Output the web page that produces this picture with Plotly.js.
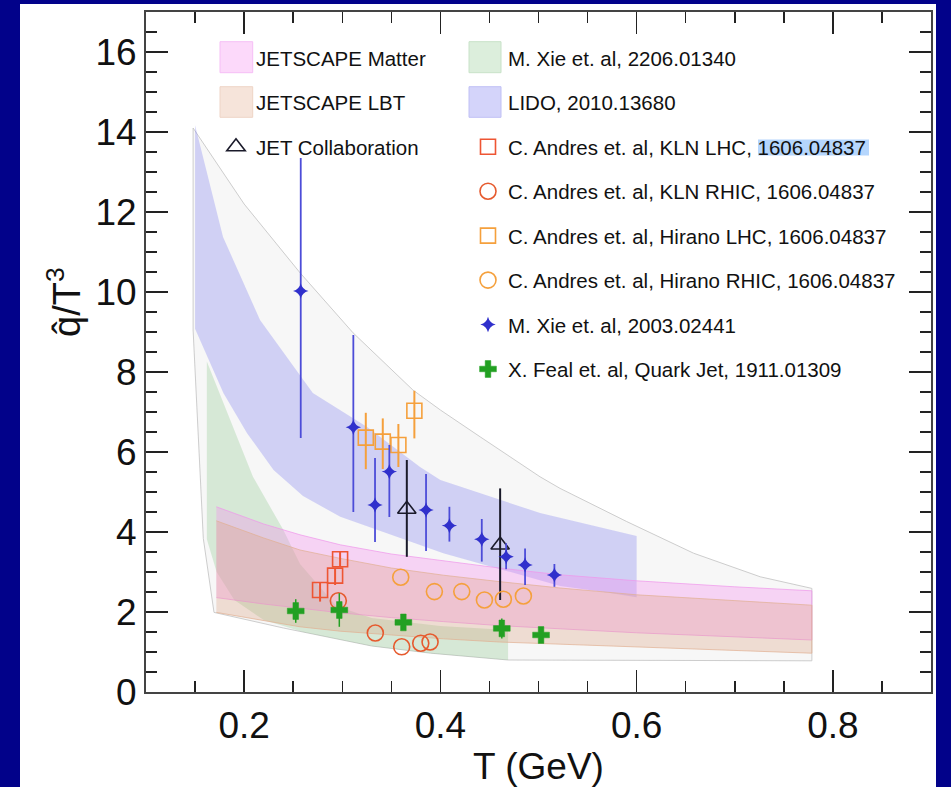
<!DOCTYPE html>
<html><head><meta charset="utf-8">
<script src="https://cdn.plot.ly/plotly-3.0.1.min.js"></script>
<style>html,body{margin:0;padding:0;background:#02028a;} #chart{width:951px;height:787px;}</style>
</head><body><div id="chart"></div>
<script>
// ---------- bands ----------
const envT = [0.148, 0.2, 0.257, 0.311, 0.372, 0.4, 0.4405, 0.5016, 0.522, 0.59, 0.658, 0.726, 0.7786, 0.7786, 0.469, 0.39, 0.33, 0.30, 0.24, 0.1693, 0.1584, 0.148, 0.148];
const envQ = [14.1, 12.2, 10.48, 8.98, 7.55, 7.05, 6.38, 5.38, 5.09, 4.26, 3.47, 2.88, 2.59, 0.78, 0.8, 0.97, 1.15, 1.3, 1.6, 1.99, 3.84, 9.05, 14.1];

const lidoUpT = [0.15, 0.1785, 0.2162, 0.27, 0.3253, 0.3793, 0.4, 0.5016, 0.6];
const lidoUpQ = [14.17, 11.375, 9.3, 7.475, 6.625, 5.625, 5.3, 4.475, 3.9];
const lidoLoT = [0.15, 0.179, 0.203, 0.23, 0.26, 0.298, 0.403, 0.522, 0.563, 0.6];
const lidoLoQ = [9.08, 7.47, 6.47, 5.55, 4.9, 4.38, 3.47, 2.65, 2.51, 2.37];

const xie22UpT = [0.162, 0.182, 0.209, 0.24, 0.257, 0.294, 0.33, 0.4, 0.469];
const xie22UpQ = [8.26, 7.05, 5.38, 4.05, 3.2, 2.15, 1.85, 1.65, 1.55];
const xie22LoT = [0.162, 0.172, 0.19, 0.22, 0.26, 0.3, 0.33, 0.39, 0.469];
const xie22LoQ = [3.82, 3.0, 2.3, 1.8, 1.5, 1.3, 1.15, 0.97, 0.8];

const bandT = [0.1717, 0.22, 0.257, 0.298, 0.35, 0.403, 0.46, 0.522, 0.6, 0.7, 0.7786];
const matterUp = [4.63, 4.2, 3.93, 3.68, 3.45, 3.28, 3.1, 2.93, 2.78, 2.63, 2.53];
const matterLo = [2.36, 2.2, 2.09, 1.98, 1.86, 1.76, 1.66, 1.58, 1.48, 1.38, 1.3];
const lbtUp = [4.28, 3.85, 3.55, 3.34, 3.1, 2.92, 2.76, 2.6, 2.43, 2.28, 2.17];
const lbtLo = [1.99, 1.78, 1.63, 1.52, 1.42, 1.33, 1.25, 1.19, 1.12, 1.04, 0.97];

// ---------- points ----------
const jetT = [0.3658, 0.4609];
const jetQ = [4.57, 3.675];
const jetHi = [5.8, 5.09];
const jetLo = [3.38, 2.3];

const klnLhcT = [0.2774, 0.2927, 0.2978];
const klnLhcQ = [2.55, 2.91, 3.32];
const klnLhcHi = [2.73, 3.09, 3.51];
const klnLhcLo = [2.26, 2.675, 3.13];

const klnRhicT = [0.296, 0.3337, 0.3606, 0.38, 0.3895];
const klnRhicQ = [2.28, 1.475, 1.13, 1.22, 1.25];

const hirLhcT = [0.324, 0.3413, 0.3572, 0.3735];
const hirLhcQ = [6.36, 6.26, 6.175, 7.03];
const hirLhcHi = [6.98, 6.84, 6.7, 7.53];
const hirLhcLo = [5.57, 5.575, 5.625, 6.34];

const hirRhicT = [0.3596, 0.3939, 0.4218, 0.4449, 0.4642, 0.4846];
const hirRhicQ = [2.87, 2.51, 2.51, 2.3, 2.32, 2.4];

const xie20T = [0.2577, 0.3113, 0.3334, 0.348, 0.3854, 0.4092, 0.4422, 0.467, 0.4863, 0.5162];
const xie20Q = [10.025, 6.62, 4.675, 5.51, 4.55, 4.16, 3.82, 3.38, 3.175, 2.925];
const xie20Hi = [13.35, 8.925, 5.85, 6.175, 5.45, 4.63, 4.325, 3.72, 3.59, 3.2];
const xie20Lo = [6.35, 4.5, 3.75, 4.375, 3.525, 3.76, 3.26, 3.07, 2.675, 2.63];

const fealT = [0.2526, 0.297, 0.3623, 0.4626, 0.5026];
const fealQ = [2.025, 2.05, 1.74, 1.59, 1.425];
const fealHi = [2.32, 2.47, 1.9, 1.84, 1.62];
const fealLo = [1.73, 1.63, 1.6, 1.34, 1.23];

const xTickVals = [0.2, 0.4, 0.6, 0.8];
const xTickText = ['0.2', '0.4', '0.6', '0.8'];
const yTickVals = [0, 2, 4, 6, 8, 10, 12, 14, 16];
const yTickText = ['0', '2', '4', '6', '8', '10', '12', '14', '16'];

const names = {
  matter: 'JETSCAPE Matter', lbt: 'JETSCAPE LBT', jet: 'JET Collaboration',
  xie22: 'M. Xie et. al, 2206.01340', lido: 'LIDO, 2010.13680',
  klnLhc: 'C. Andres et. al, KLN LHC, 1606.04837', klnRhic: 'C. Andres et. al, KLN RHIC, 1606.04837',
  hirLhc: 'C. Andres et. al, Hirano LHC, 1606.04837', hirRhic: 'C. Andres et. al, Hirano RHIC, 1606.04837',
  xie20: 'M. Xie et. al, 2003.02441', feal: 'X. Feal et. al, Quark Jet, 1911.01309'
};

// ---------- helpers ----------
const FONT = 'Liberation Sans, Arial, Helvetica, sans-serif';
function band(upT, upQ, loT, loQ, fill, line) {
  return {
    x: upT.concat(loT.slice().reverse()), y: upQ.concat(loQ.slice().reverse()),
    mode: 'lines', fill: 'toself', fillcolor: fill,
    line: {color: line, width: 1}, showlegend: false, hoverinfo: 'skip'
  };
}
function diff(a, b) { return a.map((v, i) => v - b[i]); }
function pts(T, Q, Hi, Lo, name, leg, symbol, size, color, lw, ecol, eth) {
  const t = {
    x: T, y: Q, mode: 'markers', name: name, legend: leg, legendgroup: name,
    marker: {symbol: symbol, size: size, color: color, line: {color: color, width: lw}}
  };
  if (Hi) t.error_y = {type: 'data', symmetric: false, array: diff(Hi, Q), arrayminus: diff(Q, Lo),
                       color: ecol || color, thickness: eth || 2, width: 0};
  return t;
}
function dummy(name, leg) {
  return {x: [null], y: [null], mode: 'markers', name: name, legend: leg, legendgroup: name,
          marker: {size: 1, color: 'rgba(0,0,0,0)', line: {width: 0}}, hoverinfo: 'skip'};
}

const data = [
  band(envT, envQ, [], [], 'rgba(200,200,200,0.14)', 'rgba(200,200,200,0.9)'),
  band(xie22UpT, xie22UpQ, xie22LoT, xie22LoQ, 'rgba(140,200,140,0.30)', 'rgba(140,200,140,0.0)'),
  band(lidoUpT, lidoUpQ, lidoLoT, lidoLoQ, 'rgba(120,120,240,0.30)', 'rgba(120,120,240,0.0)'),
  band(bandT, matterUp, bandT, matterLo, 'rgba(247,140,240,0.33)', 'rgba(240,150,235,0.7)'),
  band(bandT, lbtUp, bandT, lbtLo, 'rgba(220,160,125,0.30)', 'rgba(225,175,145,0.7)'),
  dummy(names.matter, 'legend'),
  dummy(names.lbt, 'legend'),
  pts(jetT, jetQ, jetHi, jetLo, names.jet, 'legend', 'triangle-up-open', 16, '#1a1a2a', 1.6, '#1a1a2a'),
  dummy(names.xie22, 'legend2'),
  dummy(names.lido, 'legend2'),
  pts(klnLhcT, klnLhcQ, klnLhcHi, klnLhcLo, names.klnLhc, 'legend2', 'square-open', 15, '#ee5533', 1.6),
  pts(klnRhicT, klnRhicQ, null, null, names.klnRhic, 'legend2', 'circle-open', 16, '#e65a2e', 1.6),
  pts(hirLhcT, hirLhcQ, hirLhcHi, hirLhcLo, names.hirLhc, 'legend2', 'square-open', 15, '#f5a03c', 1.6),
  pts(hirRhicT, hirRhicQ, null, null, names.hirRhic, 'legend2', 'circle-open', 16, '#f5a03c', 1.6),
  pts(xie20T, xie20Q, xie20Hi, xie20Lo, names.xie20, 'legend2', 'star-diamond', 11, '#3030cc', 0, '#4c4cd8', 1.8),
  pts(fealT, fealQ, fealHi, fealLo, names.feal, 'legend2', 'cross', 14, '#22a022', 0.5, '#22a022', 1.5)
];

const L = 146, R = 20, T = 12, B = 95;
const W = 951 - L - R, H = 787 - T - B;
const px = v => (v - L) / W;
const py = v => (787 - B - v) / H;

function swatch(x0, y0, x1, y1, fill, line) {
  return {type: 'rect', xref: 'paper', yref: 'paper', layer: 'above',
          x0: px(x0), x1: px(x1), y0: py(y1), y1: py(y0),
          fillcolor: fill, line: {color: line, width: 1}};
}

const layout = {
  width: 951, height: 787,
  margin: {l: L, r: R, t: T, b: B},
  paper_bgcolor: '#02028a', plot_bgcolor: 'white',
  font: {family: FONT, color: '#111'},
  showlegend: true,
  xaxis: {
    range: [0.1, 0.9], tickvals: xTickVals, ticktext: xTickText,
    ticks: 'inside', ticklen: 22, tickwidth: 1.5, tickcolor: '#222',
    minor: {dtick: 0.05, tick0: 0, ticks: 'inside', ticklen: 11, tickwidth: 1.5, tickcolor: '#222'},
    showline: true, linewidth: 2, linecolor: '#444', mirror: 'ticks',
    showgrid: false, zeroline: false,
    tickfont: {size: 37, family: FONT, color: '#111'},
    title: {text: 'T (GeV)', font: {size: 37, family: FONT, color: '#111'}, standoff: 14}
  },
  yaxis: {
    range: [0, 17], tickvals: yTickVals, ticktext: yTickText,
    ticks: 'inside', ticklen: 22, tickwidth: 1.5, tickcolor: '#222',
    minor: {dtick: 0.5, tick0: 0, ticks: 'inside', ticklen: 11, tickwidth: 1.5, tickcolor: '#222'},
    showline: true, linewidth: 2, linecolor: '#444', mirror: 'ticks',
    showgrid: false, zeroline: false,
    tickfont: {size: 37, family: FONT, color: '#111'}
  },
  legend: {x: px(216), y: py(38), xanchor: 'left', yanchor: 'top', bgcolor: 'rgba(0,0,0,0)',
           font: {size: 20.5, family: FONT, color: '#111'}, tracegroupgap: 14.8, traceorder: 'grouped'},
  legend2: {x: px(468), y: py(38), xanchor: 'left', yanchor: 'top', bgcolor: 'rgba(0,0,0,0)',
           font: {size: 20.5, family: FONT, color: '#111'}, tracegroupgap: 14.8, traceorder: 'grouped'},
  annotations: [
    {xref: 'paper', yref: 'paper', x: px(64), y: py(302), xanchor: 'center', yanchor: 'middle',
     text: 'q\u0302/T<sup>3</sup>', textangle: -90, showarrow: false,
     font: {size: 38, family: FONT, color: '#111'}}
  ],
  shapes: [
    {type: 'rect', xref: 'paper', yref: 'paper', layer: 'below',
     x0: px(20), x1: px(936), y0: -0.3, y1: py(4), fillcolor: 'white', line: {width: 0}},
    swatch(220, 41.7, 252.7, 72.7, 'rgba(252,217,250,1)', 'rgba(245,190,245,1)'),
    swatch(220, 86.7, 252.7, 117.3, 'rgba(246,228,218,1)', 'rgba(238,212,198,1)'),
    swatch(469, 41.7, 501, 72.7, 'rgba(220,238,220,1)', 'rgba(200,226,200,1)'),
    swatch(469, 86.7, 501, 117.3, 'rgba(212,212,250,1)', 'rgba(192,192,245,1)'),
    {type: 'rect', xref: 'paper', yref: 'paper', layer: 'above',
     x0: px(758), x1: px(869), y0: py(155.5), y1: py(139.5), fillcolor: '#b5d6fd', line: {width: 0}}
  ]
};

Plotly.newPlot('chart', data, layout, {displayModeBar: false, staticPlot: true});
</script></body></html>
